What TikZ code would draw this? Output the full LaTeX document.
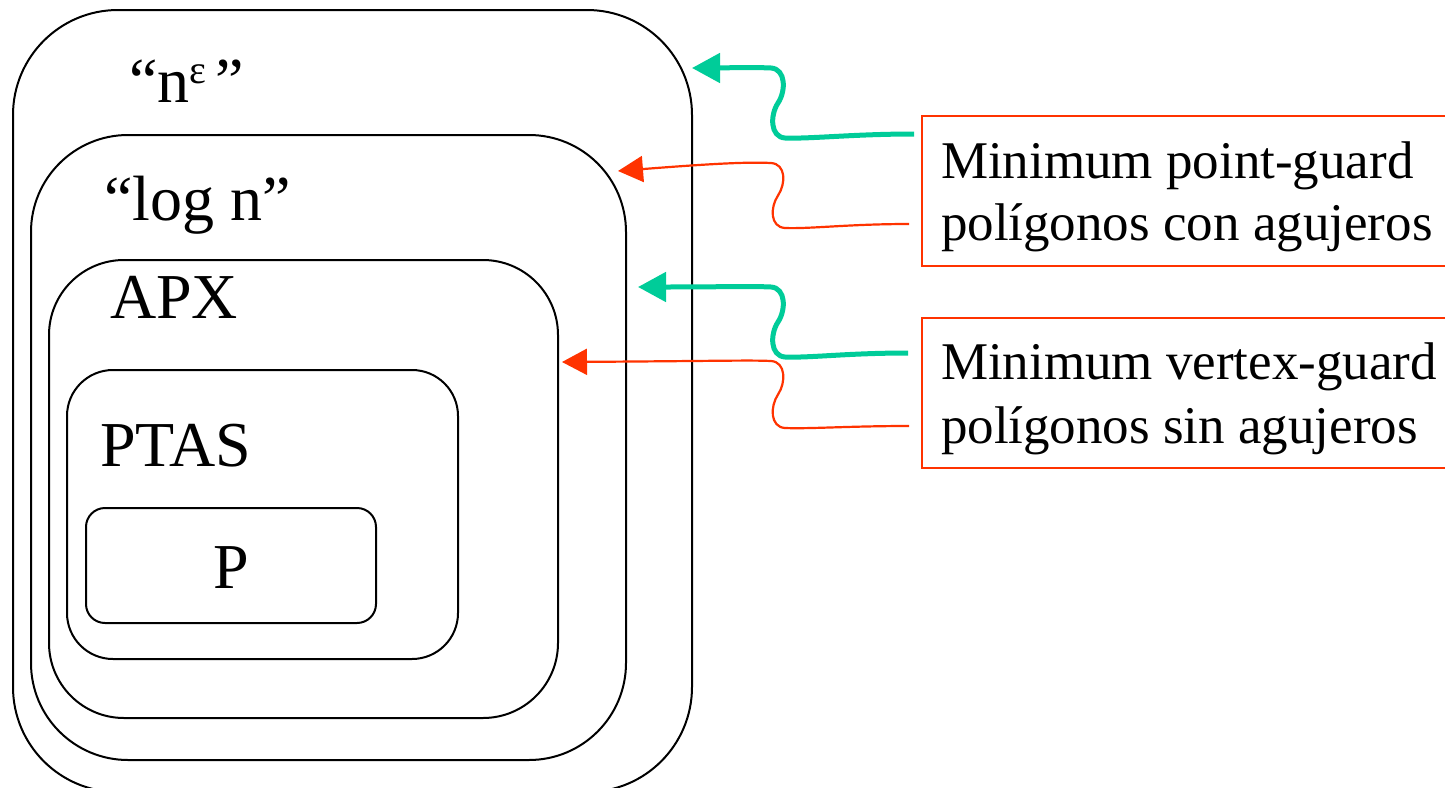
\documentclass[tikz,border=0pt]{standalone}
\usepackage{fontspec}
\setmainfont{Liberation Serif}
\usetikzlibrary{arrows.meta,calc}

\definecolor{guardgreen}{RGB}{0,204,153}
\definecolor{guardred}{RGB}{255,51,0}

% S-shaped connector: style, start, tip, y of lower run, y of upper run
\newcommand\wiggle[5]{%
  \draw[#1] (#2) .. controls ($(#2)+(-60,0)$) and (810,#4+1) .. (785,#4)
    .. controls (770,#4-1) and (770,{(#4+#5)/2+12}) .. (778,{(#4+#5)/2})
    .. controls (786,{(#4+#5)/2-12}) and (786,#5+1) .. (771,#5)
    .. controls (750,#5-1) and (720,#5) .. (#3);}

\begin{document}
\begin{tikzpicture}[x=1pt,y=-1pt,
  nest/.style={draw=black, line width=2pt, rounded corners=#1,
    inner sep=0pt, outer sep=0pt},
  lbl/.style={font=\fontsize{64}{76}\selectfont, inner sep=0pt, outer sep=0pt,
    anchor=base west},
  txt/.style={font=\fontsize{53}{64}\selectfont, inner sep=0pt, outer sep=0pt,
    anchor=base west},
  redbox/.style={draw=guardred, line width=2.5pt, inner sep=0pt, outer sep=0pt,
    minimum width=540pt, minimum height=150pt, anchor=north west},
  greenarrow/.style={draw=guardgreen, line width=5pt,
    -{Triangle[length=28pt,width=29pt]}},
  redarrow/.style={draw=guardred, line width=2.2pt,
    -{Triangle[length=25pt,width=26pt]}}]

\useasboundingbox (0,0) rectangle (1445,787);
\clip (0,0) rectangle (1445,787);

% nested complexity classes
\node[nest=105pt, minimum width=679pt, minimum height=782pt] (eps)  at (352.5,401) {};
\node[nest=97pt,  minimum width=595pt, minimum height=625pt] (logn) at (328.5,447.5) {};
\node[nest=75pt,  minimum width=509pt, minimum height=458pt] (apx)  at (303.5,489) {};
\node[nest=46pt,  minimum width=391pt, minimum height=289pt] (ptas) at (262.5,514.5) {};
\node[nest=19pt,  minimum width=290pt, minimum height=115pt] (pcl)  at (231,565.5) {};

\node[lbl] (epslab) at (129,102)
  {“n\raisebox{19pt}{\fontsize{40}{40}\selectfont ε}\hspace{9pt}”};
\node[lbl] (lognlab) at (104,220) {“log n”};
\node[lbl] (apxlab)  at (110,318) {APX};
\node[lbl] (ptaslab) at (100,466) {PTAS};
\node[lbl] (plab)    at (213,588) {P};

% problem boxes
\node[redbox] (ptg) at (922,116) {};
\node[redbox] (vg)  at (922,318) {};
\node[txt] (ptg1) at (941,178) {Minimum point-guard};
\node[txt] (ptg2) at (941,240) {polígonos con agujeros};
\node[txt] (vg1)  at (941,379) {Minimum vertex-guard};
\node[txt] (vg2)  at (941,443) {polígonos sin agujeros};

% connector ends
\coordinate (g1s) at ($(ptg.north west)+(-8,18)$);
\coordinate (r1s) at ($(ptg.north west)+(-13,108)$);
\coordinate (g2s) at ($(vg.north west)+(-14,35)$);
\coordinate (r2s) at ($(vg.north west)+(-13,108)$);
\coordinate (g1e) at ($(eps.north east)+(0,58)$);
\coordinate (r1e) at ($(logn.north east)+(-8,36)$);
\coordinate (g2e) at ($(logn.north east)+(12,152)$);
\coordinate (r2e) at ($(apx.north east)+(4,102)$);

\wiggle{greenarrow}{g1s}{g1e}{138}{68}
\wiggle{redarrow}{r1s}{r1e}{228}{163}
\wiggle{greenarrow}{g2s}{g2e}{357}{287}
\wiggle{redarrow}{r2s}{r2e}{428}{361}

\end{tikzpicture}
\end{document}
